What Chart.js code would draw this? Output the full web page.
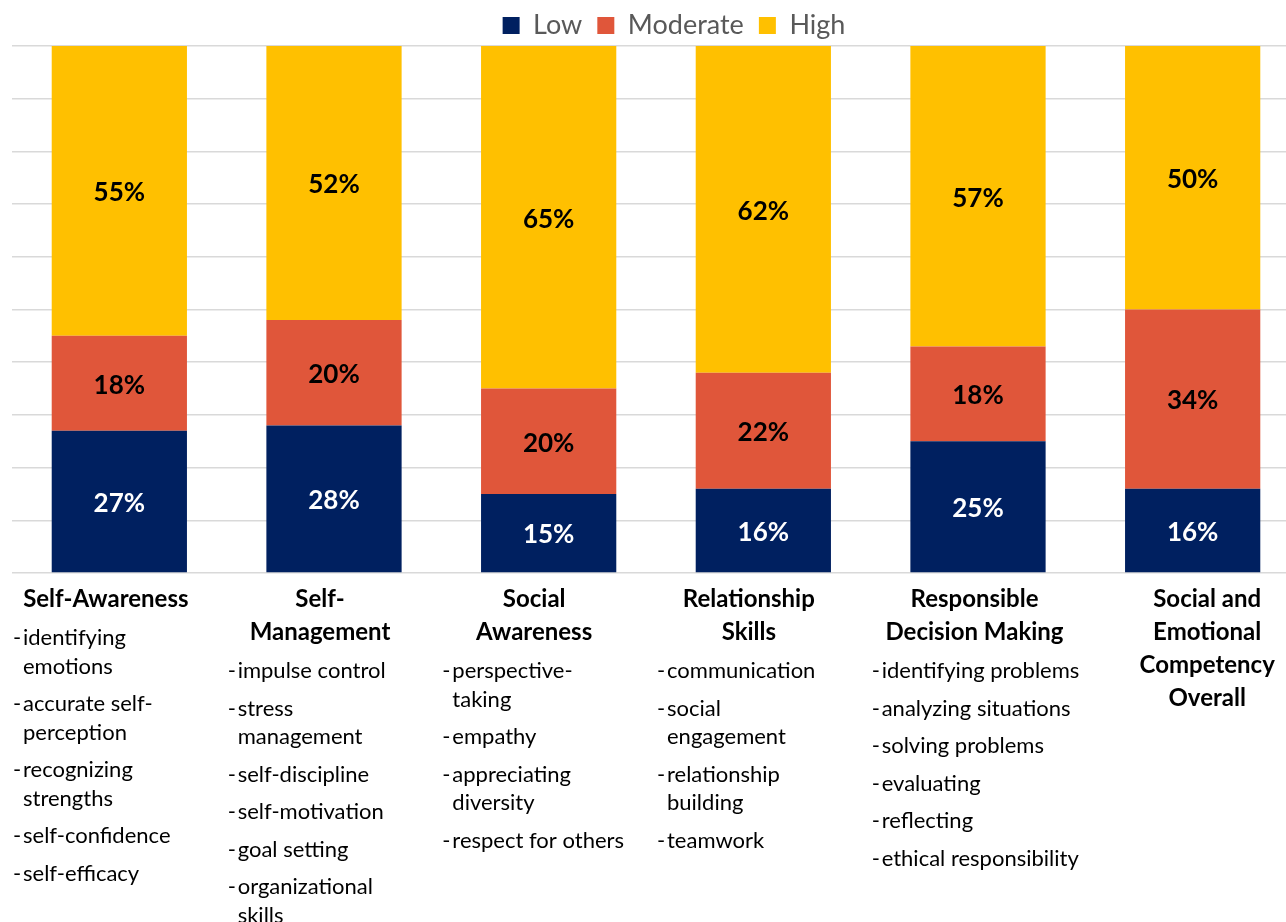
<!DOCTYPE html>
<html><head><meta charset="utf-8">
<script src="https://cdn.jsdelivr.net/npm/chart.js@4.4.1/dist/chart.umd.min.js"></script>
<style>html,body{margin:0;padding:0;overflow:hidden;background:#fff}
#wrap{position:relative;width:1300px;height:922px}</style></head>
<body><div id="wrap"><canvas id="c"></canvas></div>
<script>
const categories = ['Self-Awareness','Self-Management','Social Awareness','Relationship Skills','Responsible Decision Making','Social and Emotional Competency Overall'];
const titleLines = [['Self-Awareness'],['Self-','Management'],['Social','Awareness'],['Relationship','Skills'],['Responsible','Decision Making'],['Social and','Emotional','Competency','Overall']];
const subItems = [
  [['identifying','emotions'],['accurate self-','perception'],['recognizing','strengths'],['self-confidence'],['self-efficacy']],
  [['impulse control'],['stress','management'],['self-discipline'],['self-motivation'],['goal setting'],['organizational','skills']],
  [['perspective-','taking'],['empathy'],['appreciating','diversity'],['respect for others']],
  [['communication'],['social','engagement'],['relationship','building'],['teamwork']],
  [['identifying problems'],['analyzing situations'],['solving problems'],['evaluating'],['reflecting'],['ethical responsibility']],
  []
];
const lowValues = [27,28,15,16,25,16];
const moderateValues = [18,20,20,22,18,34];
const highValues = [55,52,65,62,57,50];
const seriesNames = ['Low','Moderate','High'];
const seriesColors = ['#002060','#E0563A','#FFC000'];
const labelColors = ['#FFFFFF','#000000','#000000'];
const FONT = 'Lato, "Noto Sans", sans-serif';

const valueLabels = {
  id:'valueLabels',
  afterDatasetsDraw(chart){
    const ctx = chart.ctx;
    ctx.save();
    ctx.font = 'bold 26px ' + FONT;
    ctx.textAlign = 'center'; ctx.textBaseline = 'middle';
    chart.data.datasets.forEach((ds, di) => {
      const meta = chart.getDatasetMeta(di);
      ctx.fillStyle = labelColors[di];
      meta.data.forEach((bar, i) => {
        const p = bar.getProps(['x','y','base'], true);
        ctx.fillText(ds.data[i] + '%', p.x, (p.y + p.base) / 2 + 2);
      });
    });
    ctx.restore();
  }
};

const categoryLabels = {
  id:'categoryLabels',
  afterDraw(chart){
    const ctx = chart.ctx, xs = chart.scales.x, bottom = chart.chartArea.bottom;
    const catW = xs.getPixelForValue(1) - xs.getPixelForValue(0);
    // horizontal placement of each wrapped title block relative to its category centre
    const titleShift = [-13.5, -14, -14.5, -14.5, -3.5, 14.5];
    ctx.save();
    ctx.fillStyle = '#000';
    ctx.textBaseline = 'middle';
    categories.forEach((c, i) => {
      const cx = xs.getPixelForValue(i);
      const left = cx - catW / 2;
      let y = bottom + 26;
      ctx.font = 'bold 24px ' + FONT;
      ctx.textAlign = 'center';
      titleLines[i].forEach((t, k) => { if (k) y += 33; ctx.fillText(t, cx + titleShift[i], y); });
      y += 39;
      ctx.font = '22px ' + FONT;
      ctx.textAlign = 'left';
      subItems[i].forEach((item, j) => {
        if (j) y += 37.5;
        item.forEach((line, k) => {
          if (k) y += 28.5;
          if (k === 0) ctx.fillText('-', left + 1, y);
          ctx.fillText(line, left + 11, y);
        });
      });
    });
    ctx.restore();
  }
};

const legendShift = {
  id:'legendShift',
  afterLayout(chart){ if (chart.legend) { chart.legend.left += 18; chart.legend.right += 18; } }
};

new Chart(document.getElementById('c'), {
  type:'bar',
  data:{
    labels: categories,
    datasets: [lowValues, moderateValues, highValues].map((d, i) => ({
      label: seriesNames[i], data: d, backgroundColor: seriesColors[i],
      borderWidth: 0, barPercentage: 0.63, categoryPercentage: 1
    }))
  },
  options:{
    responsive:true, maintainAspectRatio:false, animation:false,
    layout:{ padding:{ left:12, right:0, top:-3, bottom:349 } },
    plugins:{
      legend:{ position:'top', maxHeight:49,
        labels:{ boxWidth:17, boxHeight:17, padding:15, color:'#595959', font:{ family:FONT, size:27 } } },
      tooltip:{ enabled:false }
    },
    scales:{
      x:{ stacked:true, display:false },
      y:{ stacked:true, min:0, max:100, ticks:{ display:false, stepSize:10 },
          grid:{ color:'#D9D9D9', lineWidth:1.5, drawTicks:false }, border:{ display:false } }
    }
  },
  plugins:[valueLabels, categoryLabels, legendShift]
});
</script></body></html>
